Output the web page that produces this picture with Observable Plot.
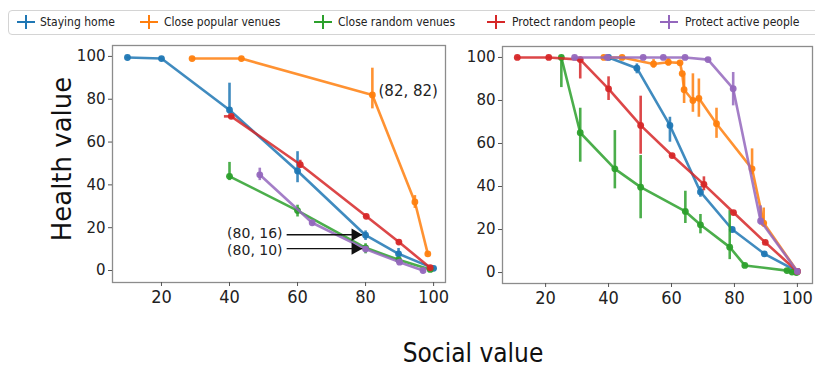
<!DOCTYPE html>
<html>
<head>
<meta charset="utf-8">
<script src="https://cdn.jsdelivr.net/npm/d3@7"></script>
<script src="https://cdn.jsdelivr.net/npm/@observablehq/plot@0.6"></script>
<style>
  html, body { margin: 0; padding: 0; background: #fff; }
  body { width: 815px; height: 367px; overflow: hidden; position: relative; font-family: "DejaVu Sans", sans-serif; color: #222; }
  #legend { position: absolute; left: 8px; top: 10px; width: 830px; height: 25px; border: 1px solid #d4d4d4; border-radius: 4px; box-sizing: border-box; }
  .item { position: absolute; top: 0; height: 23px; display: flex; align-items: center; }
  .item svg { position: absolute; top: 3px; }
  .item span { position: absolute; white-space: nowrap; font-family: "DejaVu Sans Condensed", "DejaVu Sans", sans-serif; font-stretch: condensed; font-size: 12px; color: #222; top: 4px; }
  .panel { position: absolute; top: 0; }
  #ylabel { position: absolute; left: 62px; top: 159px; transform: translate(-50%, -50%) rotate(-90deg); font-size: 26px; white-space: nowrap; color: #111; }
  #xlabel { position: absolute; left: 473px; top: 353px; transform: translate(-50%, -50%); font-size: 26px; line-height: 24px; white-space: nowrap; font-family: "DejaVu Sans Condensed", "DejaVu Sans", sans-serif; font-stretch: condensed; color: #111; }
  svg [aria-label="x-axis tick label"] { font-family: "DejaVu Sans Condensed", "DejaVu Sans", sans-serif; font-stretch: condensed; }
</style>
</head>
<body>
<div id="legend"></div>
<div id="left" class="panel" style="left:0px"></div>
<div id="right" class="panel" style="left:450px"></div>
<div id="ylabel">Health value</div>
<div id="xlabel">Social value</div>
<script>
const seriesNames = ["Staying home", "Close popular venues", "Close random venues", "Protect random people", "Protect active people"];
const seriesColors = ["#1f77b4", "#ff7f0e", "#2ca02c", "#d62728", "#9467bd"];
const xTicks = [20, 40, 60, 80, 100];
const yTicks = [0, 20, 40, 60, 80, 100];

// rows: [social value, health value, error low, error high]
const leftStayingHome = [[10, 99.5, null, null], [20, 99, null, null], [40, 75, 73, 87.5], [60, 46.5, 41, 55.5], [80, 16.5, 14, 18.5], [89.7, 7.8, 6, 10.3], [100, 1, null, null]];
const leftClosePopular = [[29, 99, null, null], [43.5, 99, null, null], [82, 82, 75.5, 94.5], [94.5, 32, 29, 35], [98.3, 7.8, null, null]];
const leftCloseRandom = [[40, 44, 42, 50.5], [60, 28, 25, 30.5], [80, 10.6, 7.8, 12.5], [89.7, 5, null, null], [99, 0.5, null, null]];
const leftProtectRandom = [[40.5, 72, null, null], [60.8, 49.5, 47.7, 51.5], [80.2, 25.3, null, null], [89.8, 13.3, null, null], [99, 1.3, null, null]];
const leftProtectActive = [[48.9, 44.7, 42, 47.8], [64.3, 22.3, null, null], [80, 10, null, null], [90, 3.9, null, null], [96.9, 0, null, null]];
// horizontal error: [y, x low, x high]
const leftProtectRandomXErr = [[72, 38.5, 41.5]];

const rightStayingHome = [[40, 100, null, null], [49, 95, 92.4, 97], [59.5, 68.4, 60.6, 72.2], [69.2, 37.5, 35, 40], [79.3, 20, null, null], [89.5, 8.7, null, null], [100, 0.5, null, null]];
const rightClosePopular = [[38.5, 100, null, null], [44.3, 100, null, null], [54.3, 97, 95, 99], [59, 97.8, 96, 99.5], [62.7, 97.5, null, null], [63.4, 92.5, null, null], [64, 85, 78.6, 92.4], [66.8, 80, 74.5, 92.4], [68.7, 81, 72.2, 90], [74.3, 69.2, 62.4, 76.4], [85.6, 48.2, 45.5, 57.5], [89.3, 23, 21, 30], [100, 0.5, null, null]];
const rightCloseRandom = [[25, 100, 86, 100.5], [31, 65, 51.3, 76.4], [42, 48.2, 38.9, 66], [50.2, 39.7, 25, 54.4], [64.4, 28.4, 22.8, 37.8], [69.2, 22.2, 18, 27], [78.5, 11.8, 6, 28.8], [83.3, 3.3, null, null], [96.7, 0.9, null, null], [98.3, 0.2, null, null], [99.7, 0, null, null]];
const rightProtectRandom = [[11, 100, null, null], [21, 100, null, null], [31, 99, 90, 99.5], [40, 85.4, 80, 91], [50.2, 68.4, 55, 82], [60.2, 54.4, null, null], [70.3, 41, 38, 44.5], [79.7, 27.9, null, null], [89.8, 14, null, null], [100, 0.5, null, null]];
const rightProtectActive = [[29.2, 100, null, null], [39.6, 100, null, null], [51, 100, null, null], [57.4, 100, null, null], [64.3, 100, null, null], [71.6, 99, null, null], [79.6, 85.5, 77.5, 93], [88.3, 24, 22, 31], [100, 0.5, null, null]];

// annotations (data coordinates)
const leftLabelsStart = [["(82, 82)", 83.8, 83.6]];
const leftLabelsEnd = [["(80, 16)", 55.6, 17.3], ["(80, 10)", 55.6, 9.4]];
const leftArrows = [[56.8, 16.7, 79, 16.7], [56.8, 10.2, 79, 10.2]];

const leftSeries = [leftStayingHome, leftClosePopular, leftCloseRandom, leftProtectRandom, leftProtectActive];
const rightSeries = [rightStayingHome, rightClosePopular, rightCloseRandom, rightProtectRandom, rightProtectActive];

// legend
const legend = document.getElementById("legend");
const markerX = [8, 131, 305, 478, 651];
const textX = [31, 155, 329, 503, 676];
seriesNames.forEach((name, i) => {
  const it = document.createElement("div");
  it.className = "item";
  it.style.left = "0px";
  it.innerHTML = `<svg width="18" height="16" style="left:${markerX[i]}px"><line x1="0" x2="18" y1="8" y2="8" stroke="${seriesColors[i]}" stroke-width="2"/><line x1="9" x2="9" y1="1" y2="15" stroke="${seriesColors[i]}" stroke-width="2"/></svg><span style="left:${textX[i]}px">${name}</span>`;
  legend.appendChild(it);
});

function seriesMarks(series) {
  return series.flatMap((rows, i) => {
    const data = rows.map(([x, y, lo, hi]) => ({x, y, lo, hi}));
    const errs = data.filter(d => d.lo != null);
    return [
      Plot.line(data, {x: "x", y: "y", stroke: seriesColors[i], strokeWidth: 2.6, strokeOpacity: 0.85}),
      Plot.ruleX(errs, {x: "x", y1: "lo", y2: "hi", stroke: seriesColors[i], strokeWidth: 2.6, strokeOpacity: 0.85}),
      Plot.dot(data, {x: "x", y: "y", r: 3.4, fill: seriesColors[i], fillOpacity: 0.95})
    ];
  });
}

function axes() {
  return [
    Plot.frame({stroke: "#8c8c8c", strokeWidth: 1.3}),
    Plot.axisY({ticks: yTicks, tickSize: 4, tickPadding: 3, fontSize: 15, label: null, stroke: "#555"}),
    Plot.axisX({ticks: xTicks, tickSize: 4, tickPadding: 4, fontSize: 18, label: null, stroke: "#555"})
  ];
}

const style = {fontFamily: "DejaVu Sans", color: "#222", background: "transparent", overflow: "visible"};

const leftPlot = Plot.plot({
  width: 450, height: 330,
  marginLeft: 112, marginRight: 5, marginTop: 45, marginBottom: 48,
  x: {domain: [5.6, 103.5]},
  y: {domain: [-5.6, 105.1]},
  style,
  marks: [
    ...axes(),
    ...seriesMarks(leftSeries),
    Plot.ruleY(leftProtectRandomXErr, {y: d => d[0], x1: d => d[1], x2: d => d[2], stroke: seriesColors[3], strokeWidth: 2.6, strokeOpacity: 0.85}),
    Plot.link(leftArrows, {x1: d => d[0], y1: d => d[1], x2: d => d[2], y2: d => d[3], stroke: "#111", strokeWidth: 1.4}),
    Plot.dot(leftArrows, {x: d => d[2], y: d => d[3], symbol: "triangle", rotate: 90, r: 4.6, fill: "#111", dx: -7}),
    Plot.text(leftLabelsStart, {text: d => d[0], x: d => d[1], y: d => d[2], textAnchor: "start", fontSize: 15, fill: "#222"}),
    Plot.text(leftLabelsEnd, {text: d => d[0], x: d => d[1], y: d => d[2], textAnchor: "end", fontSize: 14, fill: "#222"})
  ]
});
document.getElementById("left").appendChild(leftPlot);

const rightPlot = Plot.plot({
  width: 365, height: 330,
  marginLeft: 52, marginRight: 3, marginTop: 46, marginBottom: 47,
  x: {domain: [6.3, 104.8]},
  y: {domain: [-5.1, 105.1]},
  style,
  marks: [
    ...axes(),
    ...seriesMarks(rightSeries)
  ]
});
document.getElementById("right").appendChild(rightPlot);
</script>
</body>
</html>
